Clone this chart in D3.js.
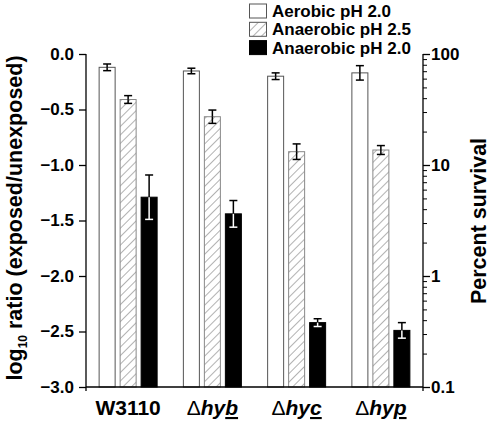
<!DOCTYPE html>
<html><head><meta charset="utf-8">
<script src="https://cdn.jsdelivr.net/npm/d3@7"></script>
<style>body{margin:0;background:#fff;} svg{display:block;font-family:"Liberation Sans",Arial,sans-serif;font-weight:bold;}</style>
</head><body>
<svg id="c" width="491" height="424"></svg>
<script>
const categories = ["W3110", "hyb", "hyc", "hyp"];
const seriesNames = ["Aerobic pH 2.0", "Anaerobic pH 2.5", "Anaerobic pH 2.0"];
const aerobic25 = [-0.12, -0.153, -0.20, -0.17];
const aerobicErr = [0.03, 0.025, 0.03, 0.065];
const anaerobic25 = [-0.41, -0.565, -0.88, -0.865];
const anaerobic25Err = [0.035, 0.06, 0.07, 0.04];
const anaerobic20 = [-1.29, -1.44, -2.42, -2.49];
const anaerobic20Err = [0.2, 0.12, 0.035, 0.07];
const leftTicks = [0, -0.5, -1, -1.5, -2, -2.5, -3];
const rightTicks = [0.1, 1, 10, 100];

const svg = d3.select("#c");
const L = 86, R = 423, T = 54, B = 387;
const y = d3.scaleLinear().domain([-3, 0]).range([B, T]);
const yR = d3.scaleLog().domain([0.1, 100]).range([B, T]);
const x0 = d3.scaleBand().domain(categories).range([L, R]).padding(0);
const x1 = d3.scaleBand().domain([0,1,2]).range([-29.5, 29.5]).paddingInner(0.19);

const defs = svg.append("defs");
const pat = defs.append("pattern").attr("id","hatch").attr("patternUnits","userSpaceOnUse")
  .attr("width",6).attr("height",6).attr("patternTransform","rotate(45)");
pat.append("rect").attr("width",6).attr("height",6).attr("fill","#fff");
pat.append("line").attr("x1",0).attr("y1",0).attr("x2",0).attr("y2",6).attr("stroke","#555").attr("stroke-width",0.9);

const series = [
  {vals: aerobic25, err: aerobicErr, fill: "#fff", stroke: "#555"},
  {vals: anaerobic25, err: anaerobic25Err, fill: "url(#hatch)", stroke: "#888"},
  {vals: anaerobic20, err: anaerobic20Err, fill: "#000", stroke: "#000"}
];

series.forEach((s, si) => {
  const g = svg.append("g");
  categories.forEach((c, ci) => {
    const xc = x0(c) + x0.bandwidth()/2 + x1(si);
    const w = x1.bandwidth();
    const v = s.vals[ci];
    g.append("rect").attr("x", xc + 0.5).attr("y", y(v)).attr("width", w - 1).attr("height", y(-3) - y(v))
      .attr("fill", s.fill).attr("stroke", s.stroke).attr("stroke-width", 1);
    const cx = xc + w/2, e = s.err[ci];
    const top = y(v + e), bot = y(v - e), mid = y(v);
    const lowCol = si === 2 ? "#fff" : "#000";
    g.append("line").attr("x1",cx).attr("x2",cx).attr("y1",top).attr("y2",mid).attr("stroke","#000").attr("stroke-width",1.5);
    g.append("line").attr("x1",cx-4).attr("x2",cx+4).attr("y1",top).attr("y2",top).attr("stroke","#000").attr("stroke-width",1.5);
    g.append("line").attr("x1",cx).attr("x2",cx).attr("y1",mid).attr("y2",bot).attr("stroke",lowCol).attr("stroke-width",1.5);
    g.append("line").attr("x1",cx-4).attr("x2",cx+4).attr("y1",bot).attr("y2",bot).attr("stroke",lowCol).attr("stroke-width",1.5);
  });
});

// left axis
const ax = svg.append("g").attr("transform", `translate(${L},0)`)
  .call(d3.axisLeft(y).tickValues(leftTicks).tickFormat(d3.format(".1f")).tickSize(7).tickSizeOuter(0));
ax.select(".domain").remove();
ax.selectAll("line").attr("stroke","#000").attr("stroke-width",1.3);
ax.selectAll("text").attr("font-size", 17).attr("font-weight","bold").attr("fill","#000")
  .attr("font-family","Liberation Sans, Arial, sans-serif").attr("x", -12);
svg.append("line").attr("x1",L).attr("x2",L).attr("y1",T).attr("y2",B+4).attr("stroke","#000").attr("stroke-width",1.3);

// right axis
const minor = [];
[0.1, 1, 10].forEach(d => { for (let k = 2; k <= 9; k++) minor.push(d*k); });
const ar = svg.append("g").attr("transform", `translate(${R},0)`)
  .call(d3.axisRight(yR).tickValues(rightTicks).tickFormat(d => d === 0.1 ? "0.1" : String(d)).tickSize(7).tickSizeOuter(0));
ar.select(".domain").remove();
ar.selectAll("line").attr("stroke","#000").attr("stroke-width",1.3);
ar.selectAll("text").attr("font-size", 17).attr("font-weight","bold").attr("fill","#000")
  .attr("font-family","Liberation Sans, Arial, sans-serif").attr("x", 8);
const am = svg.append("g").attr("transform", `translate(${R},0)`)
  .call(d3.axisRight(yR).tickValues(minor).tickFormat("").tickSize(4).tickSizeOuter(0));
am.select(".domain").remove();
am.selectAll("line").attr("stroke","#000").attr("stroke-width",1);
svg.append("line").attr("x1",R).attr("x2",R).attr("y1",T).attr("y2",B+4).attr("stroke","#000").attr("stroke-width",1.3);

// bottom axis
svg.append("line").attr("x1",L).attr("x2",R).attr("y1",B).attr("y2",B).attr("stroke","#000").attr("stroke-width",1.3);

// category labels
categories.forEach((c, ci) => {
  const t = svg.append("text").attr("x", x0(c) + x0.bandwidth()/2).attr("y", 415)
    .attr("text-anchor","middle").attr("font-size", 21).attr("font-weight","bold").attr("fill","#000");
  if (ci === 0) { t.text(c); }
  else {
    t.append("tspan").attr("font-weight","normal").text("\u0394");
    t.append("tspan").attr("font-style","italic").text(c.slice(0,2));
    t.append("tspan").attr("font-style","italic").attr("text-decoration","underline").text(c.slice(2));
  }
});

// axis titles
const lt = svg.append("text").attr("transform","translate(22,218) rotate(-90)")
  .attr("text-anchor","middle").attr("font-size",21.5).attr("font-weight","bold").attr("fill","#000");
lt.append("tspan").text("log");
lt.append("tspan").attr("font-size",12).attr("dy",5).text("10");
lt.append("tspan").attr("dy",-5).text(" ratio (exposed/unexposed)");

svg.append("text").attr("transform","translate(486,221) rotate(-90)")
  .attr("text-anchor","middle").attr("font-size",21.5).attr("font-weight","bold").attr("fill","#000").text("Percent survival");

// legend
const lg = svg.append("g");
seriesNames.forEach((n, i) => {
  const yy = 4 + i*18.3;
  lg.append("rect").attr("x",249.5).attr("y",yy).attr("width",17).attr("height",14)
    .attr("fill", series[i].fill).attr("stroke", i===2?"#000":"#555").attr("stroke-width",1);
  lg.append("text").attr("x",272).attr("y",yy+13).attr("font-size",17).attr("font-weight","bold").attr("fill","#000").text(n);
});
</script>
</body></html>
